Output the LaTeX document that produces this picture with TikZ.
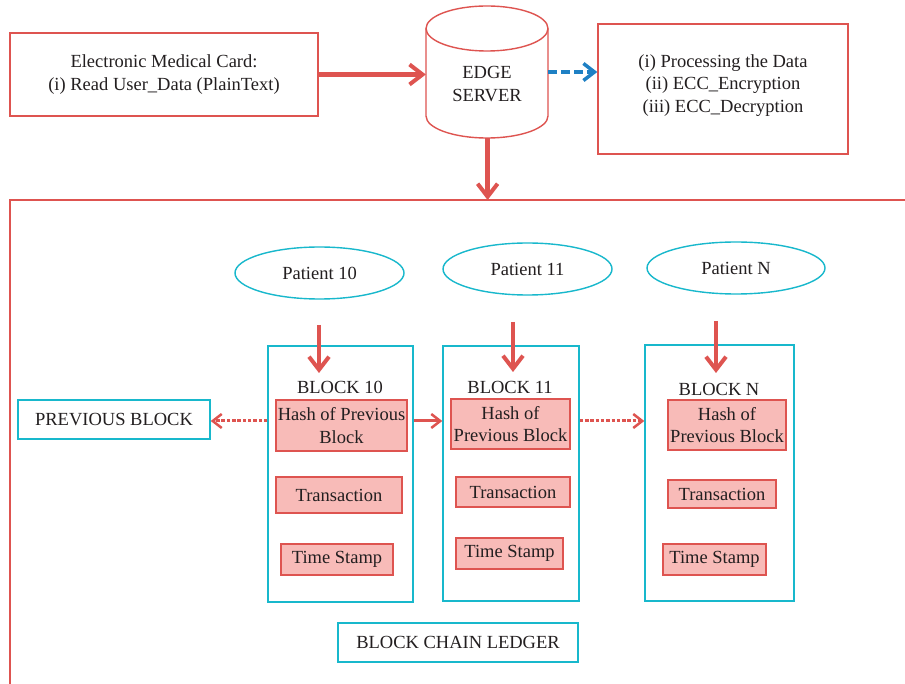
\documentclass[tikz,border=0pt]{standalone}
\usepackage{fontspec}
\setmainfont{Liberation Serif}
\usetikzlibrary{arrows.meta,shapes.geometric}
\definecolor{redc}{RGB}{222,84,80}
\definecolor{pinkc}{RGB}{248,187,184}
\definecolor{cyanc}{RGB}{24,184,204}
\definecolor{bluec}{RGB}{30,128,196}
\definecolor{txtc}{RGB}{35,31,32}
\tikzset{
  redbox/.style={draw=redc, line width=1.4pt, fill=white, inner sep=0pt, align=center},
  cyanbox/.style={draw=cyanc, line width=1.4pt, fill=white, inner sep=0pt, align=center},
  pinkbox/.style={draw=redc, line width=1.2pt, fill=pinkc, inner sep=0pt, align=center},
  patient/.style={draw=cyanc, line width=1.4pt, ellipse, inner sep=0pt, minimum height=52pt},
  label/.style={inner sep=0pt, align=center},
  bigarrow/.style={draw=redc, line width=4.5pt, -{Straight Barb[length=13pt,width=20pt,line width=4pt]}},
  midarrow/.style={draw=redc, line width=3pt, -{Straight Barb[length=9pt,width=14pt,line width=2.5pt]}},
  dotarrow/.style={draw=redc, line width=3pt, dash pattern=on 3.5pt off 1.8pt, -{Straight Barb[length=9pt,width=14pt,line width=2.5pt]}},
  bluearrow/.style={draw=bluec, line width=4pt, dash pattern=on 9pt off 4pt, -{Straight Barb[length=11pt,width=17pt,line width=3.5pt]}},
}
\begin{document}
\begin{tikzpicture}[x=1pt, y=-1pt, font=\fontsize{18.5}{22.5}\selectfont, text=txtc]
\useasboundingbox (0,0) rectangle (905,684);
\fill[white] (0,0) rectangle (905,684);

% ledger frame (open to the right and bottom)
\draw[redc, line width=1.4pt] (905,200) -- (10,200) -- (10,684);

% top row: card, edge server, processing steps
\node[redbox, minimum width=308pt, minimum height=83pt] (card) at (164,74.5)
  {Electronic Medical Card:\\(i) Read User\_Data (PlainText)};
\node[inner sep=0pt, minimum width=122pt, minimum height=132pt] (srv) at (487,72) {};
\draw[redc, line width=1.4pt, fill=white] (426,28.5) -- (426,116)
  arc[start angle=180, end angle=360, x radius=61pt, y radius=22pt] -- (548,28.5);
\draw[redc, line width=1.4pt, fill=white] (487,28.5) ellipse[x radius=61pt, y radius=22.5pt];
\node[label] (srvtxt) at (487,84) {EDGE\\SERVER};
\node[redbox, minimum width=250pt, minimum height=130pt] (proc) at (723,89) {};
\node[label] (proctxt) at (723,85.5) {(i) Processing the Data\\(ii) ECC\_Encryption\\(iii) ECC\_Decryption};

\draw[bigarrow] (card.east) -- (card.east -| srv.west);
\draw[bluearrow] (srv.east) -- (srv.east -| proc.west);
\coordinate (frametop) at (487.6,200);
\draw[bigarrow] (srv.south -| frametop) -- (frametop);

% patients
\node[patient, minimum width=169pt] (p10) at (319.5,273) {Patient 10};
\node[patient, minimum width=169pt] (p11) at (527.5,269) {Patient 11};
\node[patient, minimum width=178pt] (pn) at (736,268) {Patient N};

% blocks
\node[cyanbox, minimum width=145pt, minimum height=256pt] (b10) at (340.5,474) {};
\node[cyanbox, minimum width=136pt, minimum height=255pt] (b11) at (511,473.5) {};
\node[cyanbox, minimum width=149pt, minimum height=256pt] (bn) at (719.5,473) {};
\node[label] (t10) at (340,387) {BLOCK 10};
\node[label] (t11) at (510,387) {BLOCK 11};
\node[label] (tn) at (719,389) {BLOCK N};

\node[pinkbox, minimum width=131pt, minimum height=51pt] (h10) at (341.5,425.5) {Hash of Previous\\Block};
\node[pinkbox, minimum width=119pt, minimum height=50pt] (h11) at (510.5,424) {Hash of\\Previous Block};
\node[pinkbox, minimum width=118pt, minimum height=50pt] (hn) at (727,425) {Hash of\\Previous Block};

\node[pinkbox, minimum width=126pt, minimum height=36pt] (tr10) at (339,495) {Transaction};
\node[pinkbox, minimum width=114pt, minimum height=30pt] (tr11) at (513,492) {Transaction};
\node[pinkbox, minimum width=108pt, minimum height=28pt] (trn) at (722,494) {Transaction};

\node[pinkbox, minimum width=112pt, minimum height=31pt] (s10) at (337,559.5) {Time Stamp};
\node[pinkbox, minimum width=107pt, minimum height=31pt] (s11) at (509.5,553.5) {Time Stamp};
\node[pinkbox, minimum width=103pt, minimum height=31pt] (sn) at (714.5,559.5) {Time Stamp};

\node[cyanbox, minimum width=192pt, minimum height=39pt] (prev) at (114,419.5) {PREVIOUS BLOCK};
\node[cyanbox, minimum width=240pt, minimum height=39pt] (ledger) at (458,642.5) {BLOCK CHAIN LEDGER};

% patient records entering their blocks
\coordinate (a10) at (319,325);
\coordinate (a11) at (513,322);
\coordinate (an) at (716,321);
\coordinate (e10) at (319,373);
\coordinate (e11) at (513,372);
\coordinate (en) at (716,373);
\draw[bigarrow] (a10) -- (e10);
\draw[bigarrow] (a11) -- (e11);
\draw[bigarrow] (an) -- (en);

% chain links
\coordinate (link) at (0,421);
\draw[dotarrow] (b10.west |- link) -- (prev.east |- link);
\draw[midarrow] (b10.east |- link) -- (b11.west |- link);
\draw[dotarrow] (b11.east |- link) -- (bn.west |- link);
\end{tikzpicture}
\end{document}
